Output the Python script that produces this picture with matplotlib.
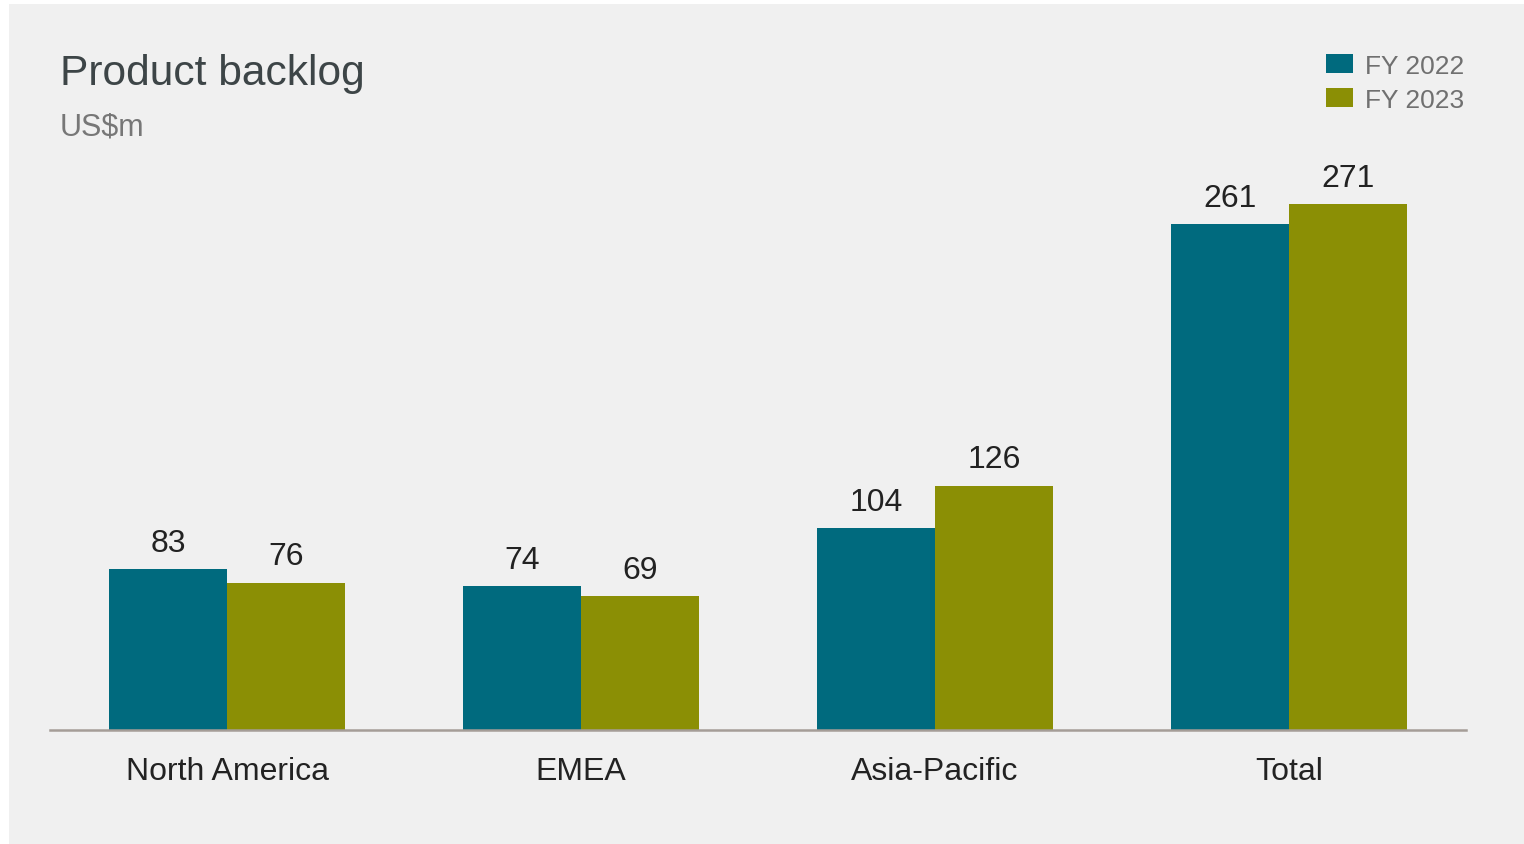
import matplotlib.pyplot as plt
import matplotlib.patches as mpatches
import numpy as np

plt.rcParams['font.family'] = ['Liberation Sans', 'DejaVu Sans']

categories = ["North America", "EMEA", "Asia-Pacific", "Total"]
fy2022 = [83, 74, 104, 261]
fy2023 = [76, 69, 126, 271]
series_names = ["FY 2022", "FY 2023"]

COL_22 = '#006a7e'
COL_23 = '#8b8f05'
BG = '#f0f0f0'

W, H = 1524, 845
fig = plt.figure(figsize=(W / 100, H / 100), dpi=100, facecolor='white')

# grey panel behind everything
fig.patches.append(mpatches.Rectangle(
    (9 / W, 0), 1 - 9 / W, (H - 5) / H,
    transform=fig.transFigure, facecolor=BG, edgecolor='none', zorder=-10))

ax = fig.add_axes([50 / W, (H - 731) / H, 1416 / W, 582 / H])
ax.set_facecolor('none')

x = np.arange(len(categories))
bw = 1 / 3
b1 = ax.bar(x - bw / 2, fy2022, bw, color=COL_22, label=series_names[0])
b2 = ax.bar(x + bw / 2, fy2023, bw, color=COL_23, label=series_names[1])

for bars, vals in ((b1, fy2022), (b2, fy2023)):
    for b, v in zip(bars, vals):
        ax.annotate(f"{v}", (b.get_x() + b.get_width() / 2, v),
                    xytext=(0, 8), textcoords='offset points',
                    ha='center', va='bottom', fontsize=23, color='#222222')

ax.set_xlim(-0.5, 3.5)
ax.set_ylim(0, 300)
ax.set_xticks(x)
ax.set_xticklabels(categories, fontsize=23, color='#222222')
ax.tick_params(axis='x', length=0, pad=19)
ax.set_yticks([])
for side in ('top', 'right', 'left'):
    ax.spines[side].set_visible(False)
ax.spines['bottom'].set_color('#a59d97')
ax.spines['bottom'].set_linewidth(1.8)

fig.text(60 / W, 1 - 85 / H, "Product backlog", fontsize=30.6,
         color='#3d4547', va='baseline', ha='left')
fig.text(60 / W, 1 - 135 / H, "US$m", fontsize=22,
         color='#777777', va='baseline', ha='left')

leg = ax.legend(loc='upper right', bbox_to_anchor=(1464 / W, 1 - 55 / H),
                bbox_transform=fig.transFigure, frameon=False,
                fontsize=19, labelcolor='#707070',
                handlelength=1.02, handleheight=0.72, handletextpad=0.45,
                labelspacing=0.38, borderaxespad=0, borderpad=0)

fig.savefig('out.png', dpi=100, facecolor='white')
